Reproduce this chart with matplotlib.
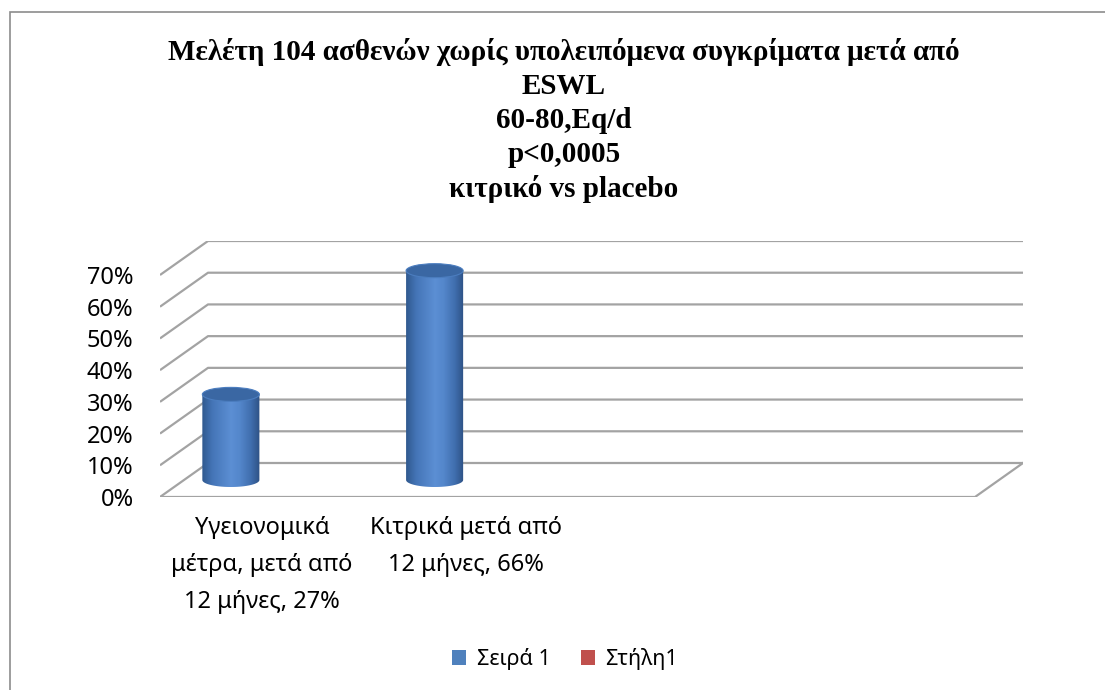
import numpy as np
import matplotlib
matplotlib.use('Agg')
import matplotlib.pyplot as plt
from matplotlib.patches import Polygon, Ellipse, Rectangle, Patch
from matplotlib.ticker import PercentFormatter

# Data
categories = ['Υγειονομικά\nμέτρα, μετά από\n12 μήνες, 27%',
              'Κιτρικά μετά από\n12 μήνες, 66%', '', '']
series1 = [0.27, 0.66, None, None]   # Σειρά 1
series2 = [None, None, None, None]   # Στήλη1 (empty)
yticks = [0.0, 0.1, 0.2, 0.3, 0.4, 0.5, 0.6, 0.7]
title = ('Μελέτη 104 ασθενών χωρίς υπολειπόμενα συγκρίματα μετά από\n'
         'ESWL\n60-80,Eq/d\np<0,0005\nκιτρικό vs placebo')
legend_labels = ['Σειρά 1', 'Στήλη1']

W, H = 1105, 690
sans = ['Noto Sans', 'DejaVu Sans']
serif = ['Liberation Serif', 'DejaVu Serif']
fs = 17

fig = plt.figure(figsize=(W / 100, H / 100), dpi=100)

# pseudo-3d geometry (pixels -> data units)
px_per_cat = 815 / 4
px_per_unit = 222 / 0.7
DX = 48 / px_per_cat
DY = 34 / px_per_unit
n = len(categories)
ymax = yticks[-1]

left, bottom = 160, 497
ax_w = (n + DX) * px_per_cat
ax_h = (ymax + DY) * px_per_unit
ax = fig.add_axes([left / W, 1 - bottom / H, ax_w / W, ax_h / H])
ax.set_xlim(0, n + DX)
ax.set_ylim(0, ymax + DY)
for s in ax.spines.values():
    s.set_visible(False)

grid_c = '#a3a3a3'
for v in yticks:
    ax.plot([0, DX, n + DX], [v, v + DY, v + DY], color=grid_c, lw=1.6,
            zorder=1, solid_capstyle='butt')
# floor front edge and right side
ax.plot([0, n, n + DX], [0, 0, DY], color=grid_c, lw=1.6, zorder=1)

# cylinder gradient
stops = np.array([[0.19, 0.35, 0.56], [0.27, 0.46, 0.72], [0.36, 0.56, 0.83],
                  [0.33, 0.53, 0.80], [0.25, 0.43, 0.68], [0.18, 0.32, 0.52]])
pos = np.array([0.0, 0.18, 0.5, 0.65, 0.85, 1.0])
xs = np.linspace(0, 1, 100)
grad = np.stack([np.interp(xs, pos, stops[:, k]) for k in range(3)], axis=-1)[None, :, :]

r = 0.14
ey = 7 / px_per_unit
offset = 0.23
for i, v in enumerate(series1):
    if v is None:
        continue
    cx = i + offset + DX / 2
    y0 = DY / 2
    y1 = y0 + v
    t = np.linspace(np.pi, 2 * np.pi, 60)
    pts = [(cx - r, y1)] + list(zip(cx + r * np.cos(t), y0 + ey * np.sin(t))) + [(cx + r, y1)]
    body = Polygon(pts, closed=True, fc='none', ec='none', transform=ax.transData)
    ax.add_patch(body)
    im = ax.imshow(grad, extent=[cx - r, cx + r, y0 - ey, y1], aspect='auto',
                   interpolation='bilinear', zorder=3)
    im.set_clip_path(body)
    ax.add_patch(Ellipse((cx, y1), 2 * r, 2 * ey, fc='#3a67a3', ec='#4b7dbf',
                         lw=0.8, zorder=4))
ax.set_xlim(0, n + DX)
ax.set_ylim(0, ymax + DY)

ax.set_yticks(yticks)
ax.yaxis.set_major_formatter(PercentFormatter(1.0, decimals=0))
ax.set_xticks([i + 0.5 for i in range(n)])
ax.set_xticklabels(categories, linespacing=1.72)
ax.tick_params(axis='y', length=0, pad=19)
ax.tick_params(axis='x', length=0, pad=14)
for lab in ax.get_yticklabels() + ax.get_xticklabels():
    lab.set_fontfamily(sans)
    lab.set_fontsize(fs)
    lab.set_color('black')

fig.text(564 / W, 1 - 38 / H, title, ha='center', va='top', fontsize=21,
         fontweight='bold', family=serif, linespacing=1.33)

handles = [Patch(fc='#4f81bd', ec='none'), Patch(fc='#c0504d', ec='none')]
fig.legend(handles, legend_labels, loc='center', bbox_to_anchor=(565 / W, 1 - 659 / H),
           ncol=2, frameon=False, handlelength=0.65, handleheight=0.65,
           handletextpad=0.5, columnspacing=1.4, prop={'family': sans, 'size': 15.5})

fig.add_artist(Rectangle((10 / W, -0.1), 1.2, 1 - 12 / H + 0.1,
                         transform=fig.transFigure, fill=False,
                         ec='#8c8c8c', lw=1.2))

fig.savefig('out.png', dpi=100)
